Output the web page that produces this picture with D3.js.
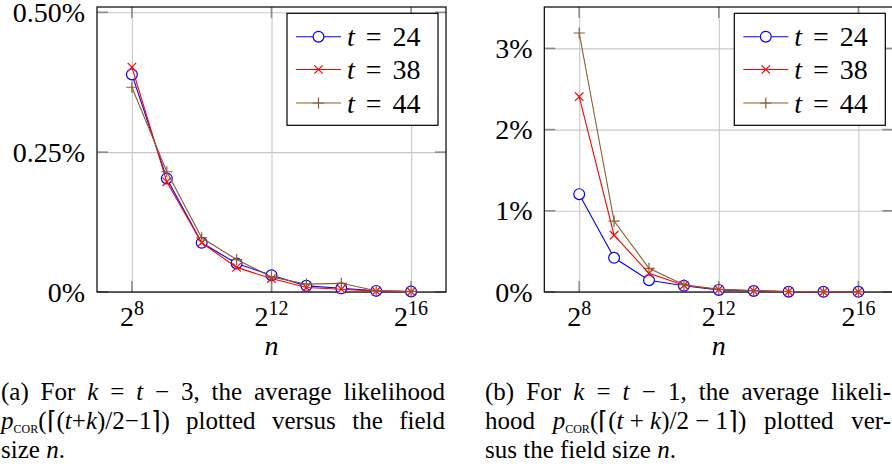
<!DOCTYPE html>
<html><head><meta charset="utf-8">
<script src="https://cdn.jsdelivr.net/npm/d3@7"></script>
<style>
body{margin:0;background:#fff;}
svg{display:block;}
</style>
</head><body>
<svg id="c" width="892" height="469" font-family="Liberation Serif"></svg>
<script>
// ---------------- data ----------------
const exponents = [8, 9, 10, 11, 12, 13, 14, 15, 16];          // n = 2^e
const tValues = [24, 38, 44];
// left panel (k = t - 3), values in percent
const leftT24 = [0.389, 0.203, 0.088, 0.051, 0.030, 0.011, 0.0066, 0.0020, 0.0010];
const leftT38 = [0.402, 0.197, 0.088, 0.044, 0.024, 0.008, 0.0050, 0.0015, 0.0006];
const leftT44 = [0.366, 0.215, 0.097, 0.058, 0.027, 0.014, 0.0155, 0.0023, 0.0010];
// right panel (k = t - 1), values in percent
const rightT24 = [1.205, 0.421, 0.145, 0.077, 0.026, 0.013, 0.004, 0.003, 0.002];
const rightT38 = [2.405, 0.700, 0.230, 0.083, 0.030, 0.015, 0.005, 0.003, 0.002];
const rightT44 = [3.190, 0.874, 0.292, 0.090, 0.034, 0.017, 0.006, 0.003, 0.002];
const xTickExps = [8, 12, 16];
const leftYTicks = [0, 0.25, 0.5];
const leftYTickLabels = ["0%", "0.25%", "0.50%"];
const rightYTicks = [0, 1, 2, 3];
const rightYTickLabels = ["0%", "1%", "2%", "3%"];
const seriesColors = ["#0000ff", "#ff0000", "#8a5c30"];
const seriesMarks = ["circle", "cross", "plus"];

// ---------------- drawing ----------------
const svg = d3.select("#c");
const FS = 28;
const FF = "Liberation Serif";

const panels = [
  {x0: 97, x1: 446, y0: 7, y1: 292, ymax: 0.5095, yTicks: leftYTicks, yLabels: leftYTickLabels,
   labelRight: 85, series: [leftT24, leftT38, leftT44]},
  {x0: 544.3, x1: 893.3, y0: 7, y1: 292, ymax: 3.51, yTicks: rightYTicks, yLabels: rightYTickLabels,
   labelRight: 532.7, series: [rightT24, rightT38, rightT44]}
];

function drawMark(g, type, cx, cy, color) {
  if (type === "circle") {
    g.append("circle").attr("cx", cx).attr("cy", cy).attr("r", 5.4)
      .attr("fill", "#fff").attr("stroke", color).attr("stroke-width", 1.2);
  } else if (type === "cross") {
    const s = 4.2;
    g.append("path").attr("d", `M${cx-s},${cy-s}L${cx+s},${cy+s}M${cx-s},${cy+s}L${cx+s},${cy-s}`)
      .attr("stroke", color).attr("stroke-width", 1.2).attr("fill", "none");
  } else {
    const s = 5.6;
    g.append("path").attr("d", `M${cx-s},${cy}L${cx+s},${cy}M${cx},${cy-s}L${cx},${cy+s}`)
      .attr("stroke", color).attr("stroke-width", 1.2).attr("fill", "none");
  }
}

panels.forEach(p => {
  const x = d3.scaleLog().base(2).domain([2 ** 7, 2 ** 17]).range([p.x0, p.x1]);
  const y = d3.scaleLinear().domain([0, p.ymax]).range([p.y1, p.y0]);
  const g = svg.append("g");
  const W = p.x1 - p.x0, H = p.y1 - p.y0;

  // grid via axes
  g.append("g").attr("transform", `translate(0,${p.y1})`)
    .call(d3.axisBottom(x).tickValues(xTickExps.map(e => 2 ** e)).tickSize(-H).tickFormat(""))
    .call(a => { a.select(".domain").remove(); a.selectAll("line").attr("stroke", "#c8c8c8").attr("stroke-width", 1.1); });
  g.append("g").attr("transform", `translate(${p.x0},0)`)
    .call(d3.axisLeft(y).tickValues(p.yTicks).tickSize(-W).tickFormat(""))
    .call(a => { a.select(".domain").remove(); a.selectAll("line").attr("stroke", "#c8c8c8").attr("stroke-width", 1.1); });

  // inward ticks on all four sides
  const tk = 11, tc = "#8c8c8c", tw = 1.6;
  xTickExps.forEach(e => {
    const xx = x(2 ** e);
    g.append("line").attr("x1", xx).attr("x2", xx).attr("y1", p.y1).attr("y2", p.y1 - tk).attr("stroke", tc).attr("stroke-width", tw);
    g.append("line").attr("x1", xx).attr("x2", xx).attr("y1", p.y0).attr("y2", p.y0 + tk).attr("stroke", tc).attr("stroke-width", tw);
  });
  p.yTicks.forEach(v => {
    const yy = y(v);
    g.append("line").attr("x1", p.x0).attr("x2", p.x0 + tk).attr("y1", yy).attr("y2", yy).attr("stroke", tc).attr("stroke-width", tw);
    g.append("line").attr("x1", p.x1).attr("x2", p.x1 - tk).attr("y1", yy).attr("y2", yy).attr("stroke", tc).attr("stroke-width", tw);
  });

  // frame
  g.append("rect").attr("x", p.x0).attr("y", p.y0).attr("width", W).attr("height", H)
    .attr("fill", "none").attr("stroke", "#000").attr("stroke-width", 1.2);

  // y tick labels
  p.yTicks.forEach((v, i) => {
    g.append("text").attr("x", p.labelRight).attr("y", y(v) + 9.5).attr("font-family", FF)
      .attr("text-anchor", "end").attr("font-size", FS).text(p.yLabels[i]);
  });
  // x tick labels 2^e
  xTickExps.forEach(e => {
    const t = g.append("text").attr("x", x(2 ** e)).attr("y", 326).attr("font-family", FF)
      .attr("text-anchor", "middle").attr("font-size", FS);
    t.append("tspan").text("2");
    t.append("tspan").attr("font-size", 20).attr("dy", -11).text(String(e));
  });
  // axis label n
  g.append("text").attr("x", x(2 ** 12)).attr("y", 355).attr("text-anchor", "middle").attr("font-family", FF)
    .attr("font-size", FS).attr("font-style", "italic").text("n");

  // series
  const line = d3.line().x(d => x(2 ** d[0])).y(d => y(d[1]));
  p.series.forEach((vals, si) => {
    const pts = exponents.map((e, i) => [e, vals[i]]);
    const sg = g.append("g");
    sg.append("path").datum(pts).attr("d", line).attr("fill", "none")
      .attr("stroke", seriesColors[si]).attr("stroke-width", 1.1);
    pts.forEach(d => drawMark(sg, seriesMarks[si], x(2 ** d[0]), y(d[1]), seriesColors[si]));
  });

  // legend
  const lx1 = p.x1 - 8, lw = 151, lx0 = lx1 - lw, ly0 = 13.3, lh = 112;
  g.append("rect").attr("x", lx0).attr("y", ly0).attr("width", lw).attr("height", lh)
    .attr("fill", "#fff").attr("stroke", "#000").attr("stroke-width", 1.2);
  const rows = [36.7, 69.5, 103];
  tValues.forEach((t, i) => {
    const ry = rows[i];
    g.append("line").attr("x1", lx0 + 9).attr("x2", lx0 + 54).attr("y1", ry).attr("y2", ry)
      .attr("stroke", seriesColors[i]).attr("stroke-width", 1.1);
    drawMark(g, seriesMarks[i], lx0 + 31.5, ry, seriesColors[i]);
    const tx = g.append("text").attr("x", lx0 + 60).attr("y", ry + 9.5).attr("font-size", FS).attr("font-family", FF);
    tx.append("tspan").attr("font-style", "italic").text("t");
    tx.append("tspan").attr("word-spacing", 4).text(" = " + t);
  });
});

// ---------------- captions ----------------
const CFS = 25;
const TS = "\u2005"; // math space, not stretched by justification
function capLine(x, y, parts, len) {
  const t = svg.append("text").attr("x", x).attr("y", y).attr("font-size", CFS).attr("font-family", FF);
  let full = "";
  parts.forEach(pt => {
    const s = t.append("tspan").text(pt.s);
    full += pt.s;
    if (pt.i) s.attr("font-style", "italic");
    if (pt.sub) s.attr("font-size", 12).attr("dy", 4);
    if (pt.up) s.attr("dy", -4);
  });
  if (len) {
    const nat = t.node().getComputedTextLength();
    const spaces = (full.match(/ /g) || []).length;
    if (spaces > 0) t.attr("word-spacing", ((len - nat) / spaces).toFixed(2));
  }
}
const I = s => ({s, i: true});
const R = s => ({s});
capLine(1, 400, [R("(a) For "), I("k"), R(" = "), I("t"), R(" − 3, the average likelihood")], 444);
capLine(1, 429, [I("p"), {s: "COR", sub: true}, {s: "(⌈(", up: true}, I("t"), R("+"), I("k"), R(")/2−1⌉) plotted versus the field")], 444);
capLine(1, 458, [R("size "), I("n"), R(".")]);
capLine(485, 400, [R("(b) For "), I("k"), R(" = "), I("t"), R(" − 1, the average likeli-")], 406);
capLine(485, 429, [R("hood "), I("p"), {s: "COR", sub: true}, {s: "(⌈(", up: true}, I("t"), R(TS + "+" + TS), I("k"), R(")/2" + TS + "−" + TS + "1⌉) plotted ver-")], 406);
capLine(485, 458, [R("sus the field size "), I("n"), R(".")]);
</script>
</body></html>
